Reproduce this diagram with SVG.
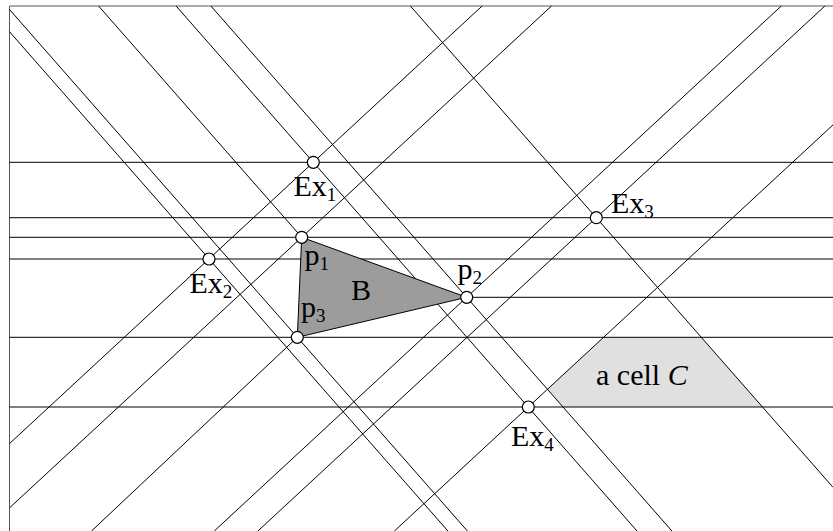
<svg xmlns="http://www.w3.org/2000/svg" width="833" height="531" viewBox="0 0 833 531">
<style>
.ln{stroke:#000;stroke-width:1;fill:none}
.pt{fill:#fff;stroke:#000;stroke-width:1.2}
.lb{font-family:"Liberation Serif","Times New Roman",serif;font-size:30px;fill:#000}
.sb{font-size:19px}
</style>
<rect width="833" height="531" fill="#fff"/>
<g id="cellC"><polygon points="603.6,337.3 701.3,337.3 762.5,407 563,407 547.45,389.27" fill="#e0e0e0"/></g>
<g id="connectors" class="ln">
<path d="M9.5,531V6H833" stroke="#555"/>
<line x1="9.5" y1="162.3" x2="833" y2="162.3"/>
<line x1="9.5" y1="217.7" x2="833" y2="217.7"/>
<line x1="9.5" y1="237.3" x2="833" y2="237.3"/>
<line x1="9.5" y1="259" x2="833" y2="259"/>
<line x1="466.7" y1="297.3" x2="833" y2="297.3"/>
<line x1="9.5" y1="337.3" x2="833" y2="337.3"/>
<line x1="9.5" y1="407" x2="833" y2="407"/>
<line x1="9.5" y1="9.5" x2="467.4" y2="531"/>
<line x1="9.5" y1="31.7" x2="447.9" y2="531"/>
<line x1="98.6" y1="6" x2="301.7" y2="237.3"/>
<line x1="176.1" y1="6" x2="637" y2="531"/>
<line x1="210.9" y1="6" x2="671.9" y2="531"/>
<line x1="410.4" y1="6" x2="833" y2="487.3"/>
<line x1="482.1" y1="6" x2="9.5" y2="443.6"/>
<line x1="551.5" y1="6" x2="9.5" y2="507.9"/>
<line x1="781.3" y1="6" x2="214.3" y2="531"/>
<line x1="824.9" y1="6" x2="257.9" y2="531"/>
<line x1="833" y1="124.9" x2="394.4" y2="531"/>
<line x1="91.5" y1="531" x2="297.3" y2="337.3"/>
</g>
<g id="B">
<polygon points="301.7,237.3 466.7,297.3 297.3,337.3" fill="#9c9c9c" stroke="#000" stroke-width="1"/>
<text class="lb" x="351" y="299.5">B</text>
</g>
<g id="p1"><circle class="pt" cx="301.7" cy="237.3" r="6"/><text class="lb" x="304.5" y="265">p<tspan class="sb" dy="5">1</tspan></text></g>
<g id="p2"><circle class="pt" cx="466.7" cy="297.3" r="6"/><text class="lb" x="457.5" y="279">p<tspan class="sb" dy="5">2</tspan></text></g>
<g id="p3"><circle class="pt" cx="297.3" cy="337.3" r="6"/><text class="lb" x="301" y="317">p<tspan class="sb" dy="5">3</tspan></text></g>
<g id="Ex1"><circle class="pt" cx="313.3" cy="162.3" r="6"/><text class="lb" x="293.5" y="196">Ex<tspan class="sb" dy="5">1</tspan></text></g>
<g id="Ex2"><circle class="pt" cx="209" cy="259" r="6"/><text class="lb" x="189.5" y="293">Ex<tspan class="sb" dy="5">2</tspan></text></g>
<g id="Ex3"><circle class="pt" cx="596.3" cy="217.7" r="6"/><text class="lb" x="611" y="213">Ex<tspan class="sb" dy="5">3</tspan></text></g>
<g id="Ex4"><circle class="pt" cx="528.3" cy="407" r="6"/><text class="lb" x="511" y="446">Ex<tspan class="sb" dy="5">4</tspan></text></g>
<g id="cellLabel"><text class="lb" x="596" y="385">a cell <tspan font-style="italic">C</tspan></text></g>
</svg>
